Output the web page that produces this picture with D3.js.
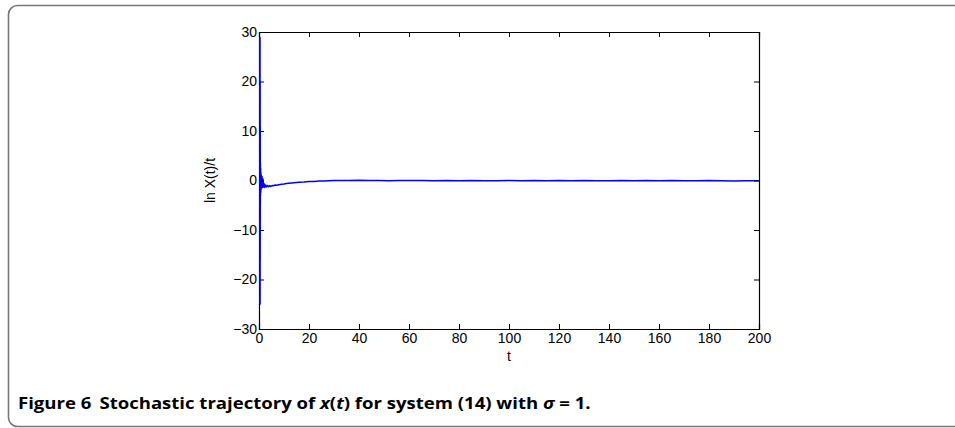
<!DOCTYPE html>
<html>
<head>
<meta charset="utf-8">
<script src="https://cdn.jsdelivr.net/npm/d3@7"></script>
<style>
  body { margin: 0; background: #fff; }
  svg { display: block; }
</style>
</head>
<body>
<svg width="955" height="428"></svg>
<script>
// trajectory of ln X(t)/t
var tVals = [0.3, 0.33, 0.36, 0.39, 0.42, 0.45, 0.48, 0.52, 0.56, 0.6, 0.65, 0.7, 0.75, 0.8, 0.9, 1.0, 1.2, 1.4, 1.6, 1.8,
  2.0, 2.3, 2.6, 3.0, 3.4, 3.8, 4.2, 4.6, 5, 5.5, 6, 6.5, 7, 8, 9, 10, 11, 12, 13, 14, 15, 16, 18, 20,
  22, 24, 26, 28, 30, 33, 36, 40, 44, 48, 52, 56, 60, 65, 70, 75, 80, 85, 90, 95, 100, 105, 110, 115,
  120, 125, 130, 135, 140, 145, 150, 155, 160, 165, 170, 175, 180, 185, 190, 195, 200];
var yVals = [29, -25, 20, -16, 11, -8, 6, -5, 3.5, -3, 2.4, -2.4, 1.6, -1.9, 1.1, -1.5, 0.8, -1.4, 0.3, -1.3,
  -0.6, -1.4, -0.9, -1.3, -1.0, -1.25, -1.05, -1.2, -1.1, -1.0, -1.05, -0.9, -0.95, -0.85, -0.75, -0.7, -0.62, -0.55, -0.5, -0.45, -0.4, -0.35, -0.3, -0.22,
  -0.18, -0.12, -0.08, -0.05, -0.02, 0.02, 0.0, 0.03, -0.02, 0.02, -0.03, 0.01, -0.02, 0.02, -0.04, 0.0, -0.05, 0.01, -0.03, -0.06, -0.02, -0.05, 0.0, -0.04,
  -0.02, -0.06, -0.01, -0.05, -0.03, 0.0, -0.05, -0.02, -0.06, -0.01, -0.04, -0.07, -0.02, -0.05, -0.08, -0.03, -0.06];
var xTicks = [0, 20, 40, 60, 80, 100, 120, 140, 160, 180, 200];
var yTicks = [-30, -20, -10, 0, 10, 20, 30];

var svg = d3.select('svg');
var font = '"Liberation Sans", Arial, sans-serif';

// outer figure frame
svg.append('rect')
  .attr('x', 8.5)
  .attr('y', 5.5)
  .attr('width', 980)
  .attr('height', 421)
  .attr('rx', 9)
  .attr('fill', 'none')
  .attr('stroke', '#777')
  .attr('stroke-width', 1.6);

var pLeft = 259, pRight = 759, pTop = 32, pBottom = 329;

var x = d3.scaleLinear().domain([0, 200]).range([pLeft, pRight]);
var y = d3.scaleLinear().domain([-30, 30]).range([pBottom, pTop]);

var fmt = d => d < 0 ? '\u2212' + Math.abs(d) : '' + d;

var g = svg.append('g');

var line = d3.line()
  .x((d, i) => x(tVals[i]))
  .y(d => y(d));

g.append('path')
  .datum(yVals)
  .attr('fill', 'none')
  .attr('stroke', '#0000ff')
  .attr('stroke-width', 1.5)
  .attr('stroke-linejoin', 'round')
  .attr('d', line);

// axes with inward ticks
var xAxis = g.append('g')
  .attr('transform', 'translate(0,' + pBottom + ')')
  .call(d3.axisBottom(x).tickValues(xTicks).tickSize(-5).tickPadding(4).tickFormat(fmt));
var xTop = g.append('g')
  .attr('transform', 'translate(0,' + pTop + ')')
  .call(d3.axisTop(x).tickValues(xTicks).tickSize(-5).tickFormat(''));
var yAxis = g.append('g')
  .attr('transform', 'translate(' + pLeft + ',0)')
  .call(d3.axisLeft(y).tickValues(yTicks).tickSize(-5).tickPadding(2).tickFormat(fmt));
var yRight = g.append('g')
  .attr('transform', 'translate(' + pRight + ',0)')
  .call(d3.axisRight(y).tickValues(yTicks).tickSize(-5).tickFormat(''));

[xAxis, xTop, yAxis, yRight].forEach(function(a) {
  a.select('.domain').attr('stroke', '#000').attr('stroke-width', 1.2);
  a.selectAll('.tick line').attr('stroke', '#000');
  a.selectAll('.tick text')
    .style('font-family', font)
    .style('font-size', '14px')
    .attr('fill', '#000');
});

// redraw the start of the trajectory over the left axis line
g.append('path')
  .datum(yVals.slice(0, 6))
  .attr('fill', 'none')
  .attr('stroke', '#0000ff')
  .attr('stroke-width', 1.5)
  .attr('d', d3.line().x((d, i) => x(tVals[i])).y(d => y(d)));

g.append('text')
  .attr('x', x(100))
  .attr('y', 361)
  .attr('text-anchor', 'middle')
  .style('font-family', font)
  .style('font-size', '14px')
  .text('t');

g.append('text')
  .attr('transform', 'translate(215,' + y(0) + ') rotate(-90)')
  .attr('text-anchor', 'middle')
  .style('font-family', font)
  .style('font-size', '14px')
  .text('ln X(t)/t');

// caption
var cap = svg.append('text')
  .attr('transform', 'translate(18,409) scale(1.16,1)')
  .style('font-family', '"Open Sans", sans-serif')
  .style('font-size', '16px')
  .style('font-weight', 'bold')
  .attr('fill', '#000');
cap.append('tspan').text('Figure 6');
cap.append('tspan').attr('dx', 7).text('Stochastic trajectory of ');
cap.append('tspan').style('font-style', 'italic').text('x');
cap.append('tspan').text('(');
cap.append('tspan').style('font-style', 'italic').text('t');
cap.append('tspan').text(') for system (14) with ');
cap.append('tspan').style('font-style', 'italic').text('\u03c3');
cap.append('tspan').text(' = 1.');
</script>
</body>
</html>
